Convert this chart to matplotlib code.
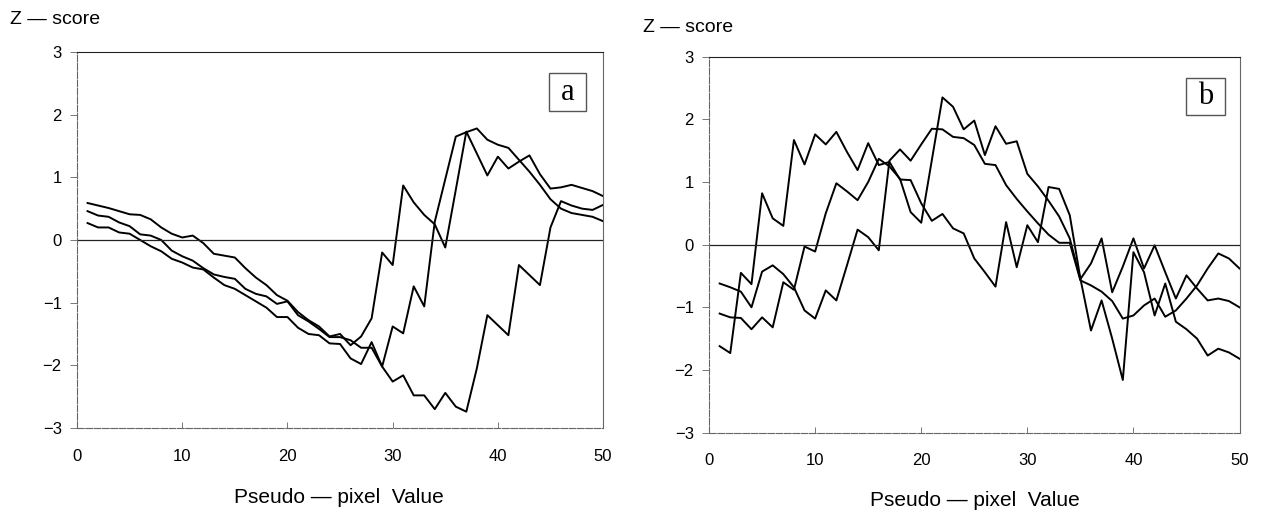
import matplotlib
matplotlib.use("Agg")
import matplotlib.pyplot as plt
from matplotlib.patches import Rectangle

plt.rcParams['font.family'] = ['Liberation Sans', 'DejaVu Sans']

x = list(range(1, 51))

# panel a: three z-score curves
a1 = [0.59, 0.55, 0.51, 0.46, 0.41, 0.40, 0.33, 0.20, 0.10, 0.04,
      0.07, -0.05, -0.22, -0.25, -0.28, -0.45, -0.60, -0.72, -0.88, -0.97,
      -1.15, -1.28, -1.38, -1.54, -1.50, -1.68, -1.54, -1.25, -0.20, -0.40,
      0.87, 0.60, 0.40, 0.25, -0.12, 0.80, 1.73, 1.38, 1.03, 1.33,
      1.14, 1.25, 1.35, 1.05, 0.82, 0.84, 0.88, 0.83, 0.78, 0.70]
a2 = [0.46, 0.39, 0.37, 0.28, 0.22, 0.09, 0.07, 0.00, -0.17, -0.26,
      -0.33, -0.45, -0.55, -0.59, -0.62, -0.78, -0.86, -0.90, -1.02, -0.98,
      -1.20, -1.30, -1.42, -1.55, -1.55, -1.60, -1.72, -1.72, -2.02, -1.38,
      -1.49, -0.74, -1.06, 0.29, 0.97, 1.65, 1.72, 1.78, 1.60, 1.52,
      1.47, 1.28, 1.09, 0.88, 0.65, 0.50, 0.43, 0.40, 0.37, 0.30]
a3 = [0.27, 0.20, 0.20, 0.12, 0.10, 0.00, -0.10, -0.18, -0.30, -0.36,
      -0.44, -0.47, -0.60, -0.72, -0.78, -0.88, -0.98, -1.08, -1.23, -1.23,
      -1.40, -1.50, -1.52, -1.65, -1.66, -1.89, -1.98, -1.63, -2.02, -2.26,
      -2.16, -2.48, -2.48, -2.70, -2.44, -2.66, -2.74, -2.05, -1.20, -1.36,
      -1.52, -0.40, -0.56, -0.72, 0.20, 0.62, 0.55, 0.50, 0.48, 0.56]

# panel b
b1 = [-1.62, -1.73, -0.45, -0.63, 0.82, 0.42, 0.30, 1.67, 1.28, 1.76,
      1.60, 1.80, 1.48, 1.19, 1.62, 1.27, 1.32, 1.04, 1.03, 0.66,
      0.38, 0.49, 0.26, 0.18, -0.22, -0.44, -0.67, 0.36, -0.36, 0.31,
      0.04, 0.92, 0.89, 0.47, -0.54, -1.37, -0.89, -1.50, -2.16, -0.12,
      -0.44, -1.13, -0.62, -1.23, -1.35, -1.50, -1.77, -1.66, -1.72, -1.82]
b2 = [-1.10, -1.16, -1.17, -1.35, -1.16, -1.32, -0.60, -0.72, -0.03, -0.11,
      0.50, 0.98, 0.85, 0.71, 1.00, 1.37, 1.25, 1.05, 0.52, 0.35,
      1.35, 2.35, 2.20, 1.84, 1.98, 1.43, 1.89, 1.61, 1.65, 1.13,
      0.93, 0.70, 0.45, 0.10, -0.55, -0.30, 0.10, -0.76, -0.35, 0.10,
      -0.38, -0.01, -0.44, -0.86, -0.49, -0.70, -0.89, -0.86, -0.90, -1.00]
b3 = [-0.62, -0.68, -0.75, -1.00, -0.43, -0.33, -0.47, -0.68, -1.05, -1.18,
      -0.73, -0.89, -0.33, 0.24, 0.12, -0.09, 1.34, 1.52, 1.34, 1.60,
      1.85, 1.84, 1.72, 1.70, 1.59, 1.29, 1.27, 0.95, 0.73, 0.53,
      0.34, 0.16, 0.03, 0.03, -0.57, -0.65, -0.75, -0.90, -1.18, -1.13,
      -0.97, -0.86, -1.15, -1.05, -0.86, -0.65, -0.38, -0.14, -0.22, -0.38]

panels = [("a", [a1, a2, a3]), ("b", [b1, b2, b3])]
rects = [[0.061, 0.177, 0.4165, 0.723], [0.5614, 0.168, 0.42, 0.723]]
boxes = [(0.897, 0.843, 0.071, 0.101), (0.900, 0.845, 0.072, 0.098)]
zpos = [(0.008, 0.962), (0.509, 0.948)]
xlab = [(0.268, 0.044), (0.772, 0.038)]

fig = plt.figure(figsize=(12.63, 5.2), dpi=100)

for (name, series), rect, bx, zp, xl in zip(panels, rects, boxes, zpos, xlab):
    ax = fig.add_axes(rect)
    for s in series:
        ax.plot(x, s, color="black", lw=1.4)
    ax.axhline(0, color="#222222", lw=0.9)
    ax.set_xlim(0, 50)
    ax.set_ylim(-3, 3)
    ax.set_xticks([0, 10, 20, 30, 40, 50])
    ax.set_yticks([-3, -2, -1, 0, 1, 2, 3])
    ax.tick_params(axis="y", direction="out", length=5, width=0.7,
                   color="#777777", labelsize=12, pad=6)
    ax.tick_params(axis="x", direction="in", length=4, width=0.7,
                   color="#777777", labelsize=12, pad=15)
    for side, sp in ax.spines.items():
        sp.set_color("#666666")
        sp.set_linewidth(0.8)
        if side in ("left", "bottom"):
            sp.set_linestyle((0, (6, 1.5)))
    ax.spines["top"].set_color("#222222")
    # boxed panel letter
    ax.add_patch(Rectangle((bx[0], bx[1]), bx[2], bx[3], transform=ax.transAxes,
                           fc="white", ec="#555555", lw=1.0, zorder=5))
    ax.text(bx[0] + bx[2] / 2, bx[1] + bx[3] / 2, name, transform=ax.transAxes,
            ha="center", va="center", fontsize=22, family="Liberation Serif",
            zorder=6)
    fig.text(zp[0], zp[1], "Z — score", fontsize=14, ha="left", va="center")
    fig.text(xl[0], xl[1], "Pseudo — pixel  Value", fontsize=15,
             ha="center", va="center")

fig.savefig("out.png", dpi=100)
